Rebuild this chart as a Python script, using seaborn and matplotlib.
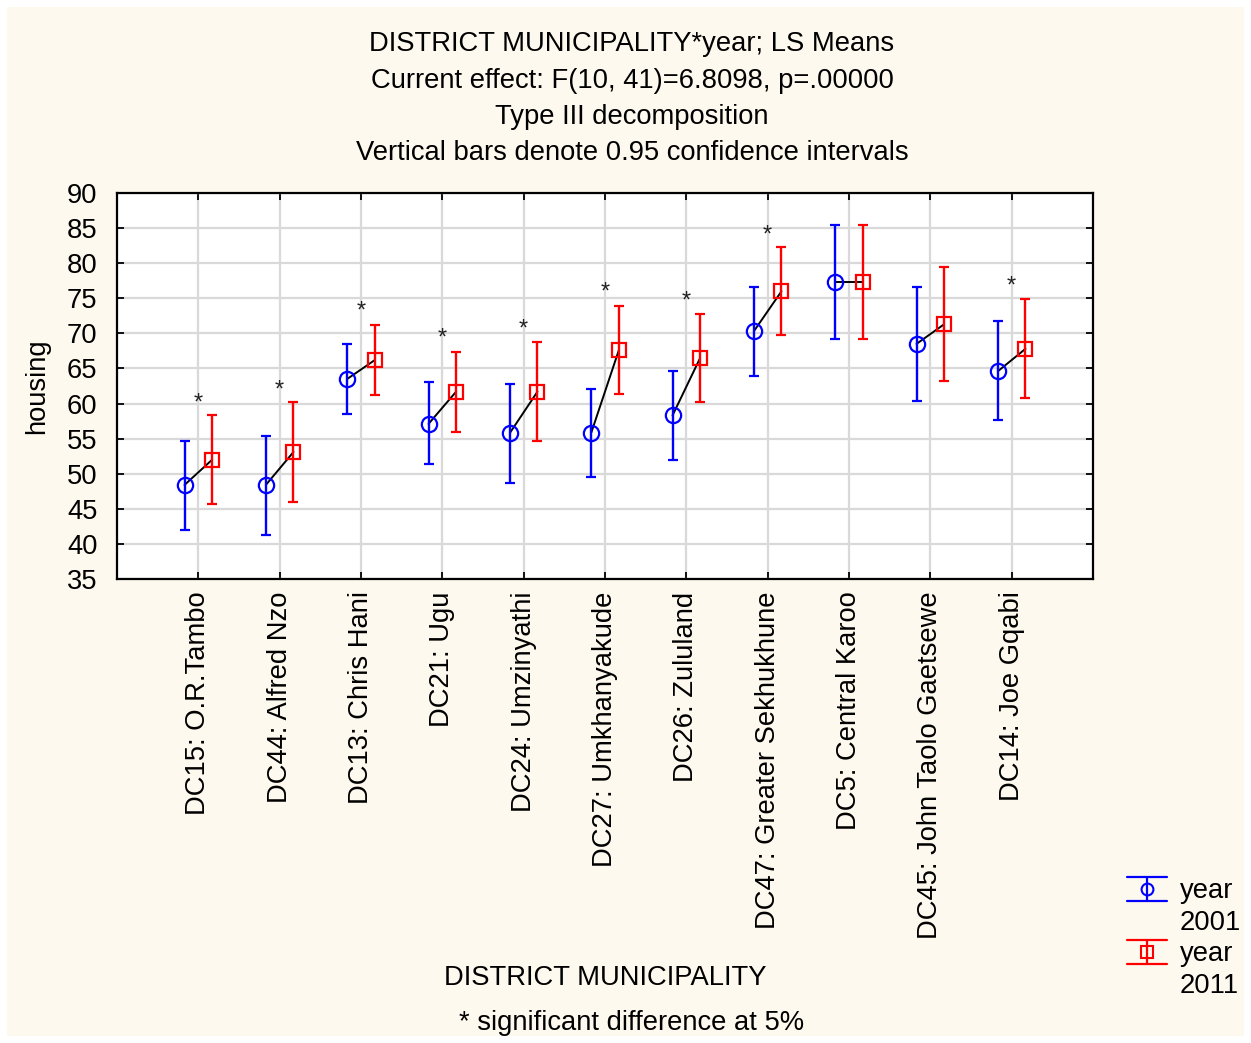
import numpy as np
import pandas as pd
import matplotlib
matplotlib.use("Agg")
import matplotlib.pyplot as plt
import seaborn as sns
from matplotlib.patches import Rectangle

categories = ["DC15: O.R.Tambo", "DC44: Alfred Nzo", "DC13: Chris Hani", "DC21: Ugu",
              "DC24: Umzinyathi", "DC27: Umkhanyakude", "DC26: Zululand",
              "DC47: Greater Sekhukhune", "DC5: Central Karoo",
              "DC45: John Taolo Gaetsewe", "DC14: Joe Gqabi"]
mean_2001 = [48.4, 48.4, 63.5, 57.1, 55.8, 55.8, 58.3, 70.3, 77.3, 68.5, 64.6]
low_2001 = [42.0, 41.3, 58.5, 51.4, 48.7, 49.5, 52.0, 63.9, 69.2, 60.3, 57.6]
high_2001 = [54.7, 55.4, 68.5, 63.0, 62.8, 62.1, 64.6, 76.6, 85.5, 76.6, 71.7]
mean_2011 = [52.0, 53.1, 66.2, 61.7, 61.7, 67.6, 66.5, 76.0, 77.3, 71.3, 67.8]
low_2011 = [45.7, 46.0, 61.2, 55.9, 54.7, 61.3, 60.2, 69.7, 69.2, 63.2, 60.8]
high_2011 = [58.3, 60.2, 71.2, 67.4, 68.7, 73.9, 72.8, 82.3, 85.5, 79.5, 74.9]
significant = [True, True, True, True, True, True, True, True, False, False, True]
star_y = [60.6, 62.5, 73.7, 69.8, 71.2, 76.4, 75.2, 84.6, None, None, 77.3]
years = ["2001", "2011"]

sns.set_style("white")
plt.rcParams['font.family'] = ['Liberation Sans', 'DejaVu Sans']
plt.rcParams.update({"text.color": "black", "axes.labelcolor": "black",
                     "xtick.color": "black", "ytick.color": "black"})

W, H = 1251, 1043
FS = 19.7
fig = plt.figure(figsize=(W / 100, H / 100), dpi=100, facecolor="white")
fig.patches.append(Rectangle((7 / W, 7 / H), (W - 14) / W, (H - 14) / H,
                             transform=fig.transFigure, facecolor="#FEF9EE",
                             edgecolor="none", zorder=-10))

ax = fig.add_axes([117 / W, 1 - 579 / H, (1093 - 117) / W, (579 - 193) / H])
ax.set_facecolor("white")

off = 0.17
x = np.arange(len(categories))
df = pd.DataFrame({
    "cat": np.tile(np.arange(len(categories)), 2),
    "year": np.repeat(years, len(categories)),
    "mean": mean_2001 + mean_2011,
})
df["xpos"] = df["cat"] + np.where(df["year"] == "2001", -off, off)

# connecting lines
sns.lineplot(data=df, x="xpos", y="mean", units="cat", estimator=None,
             color="black", linewidth=1.4, ax=ax, zorder=3, legend=False)

colors = {"2001": "#0000FF", "2011": "#FF0000"}
markers = {"2001": "o", "2011": "s"}
for yr, m, lo, hi in [("2001", mean_2001, low_2001, high_2001),
                      ("2011", mean_2011, low_2011, high_2011)]:
    m = np.array(m); lo = np.array(lo); hi = np.array(hi)
    xs = x + (-off if yr == "2001" else off)
    ax.errorbar(xs, m, yerr=[m - lo, hi - m], fmt=markers[yr], color=colors[yr],
                mfc="none", mec=colors[yr], ms=11 if yr == "2001" else 10.5,
                mew=1.6, elinewidth=1.7, capsize=3.5, capthick=1.7, zorder=4)

for i, (s, sy) in enumerate(zip(significant, star_y)):
    if s:
        ax.text(i, sy - 0.6, "*", ha="center", va="center", fontsize=17, color="#222222", zorder=5)

ax.set_xlim(-1, len(categories))
ax.set_ylim(35, 90)
ax.set_yticks(np.arange(35, 91, 5))
ax.set_xticks(x)
ax.set_xticklabels(categories, rotation=90, fontsize=FS)
ax.tick_params(axis="y", labelsize=FS)
ax.grid(True, color="#D9D9D9", linewidth=1.6)
ax.set_axisbelow(True)
for sp in ax.spines.values():
    sp.set_visible(True)
    sp.set_color("black")
    sp.set_linewidth(1.6)
ax.tick_params(direction="in", length=5, width=1.3, color="black",
               top=True, right=True, bottom=True, left=True)
ax.tick_params(axis="y", pad=14)
ax.tick_params(axis="x", pad=9)
ax.set_xlabel("")
ax.set_ylabel("housing", fontsize=FS, labelpad=12)

title_lines = ["DISTRICT MUNICIPALITY*year; LS Means",
               "Current effect: F(10, 41)=6.8098, p=.00000",
               "Type III decomposition",
               "Vertical bars denote 0.95 confidence intervals"]
for k, line in enumerate(title_lines):
    fig.text(632 / W, 1 - (44 + 36.5 * k) / H, line, ha="center", va="center", fontsize=FS)

fig.text(605 / W, 1 - 978 / H, "DISTRICT MUNICIPALITY", ha="center", va="center", fontsize=FS)
fig.text(632 / W, 1 - 1023 / H, "* significant difference at 5%", ha="center", va="center", fontsize=FS)

# legend drawn in an overlay axes with pixel coordinates
lax = fig.add_axes([0, 0, 1, 1], facecolor="none")
lax.set_xlim(0, W)
lax.set_ylim(H, 0)
lax.axis("off")
for yr, yc, mk in [("2001", 889, "o"), ("2011", 952, "s")]:
    c = colors[yr]
    lax.plot([1127, 1167], [yc - 12, yc - 12], color=c, lw=1.6)
    lax.plot([1127, 1167], [yc + 12, yc + 12], color=c, lw=1.6)
    lax.plot([1147, 1147], [yc - 12, yc + 12], color=c, lw=1.6)
    lax.plot([1147], [yc], marker=mk, ms=8.5 if mk == "o" else 8, mfc="none", mec=c, mew=1.5)
    lax.text(1180, yc + 2, "year", ha="left", va="center", fontsize=FS)
    lax.text(1180, yc + 34, yr, ha="left", va="center", fontsize=FS)

fig.savefig("out.png", dpi=100, facecolor=fig.get_facecolor())
